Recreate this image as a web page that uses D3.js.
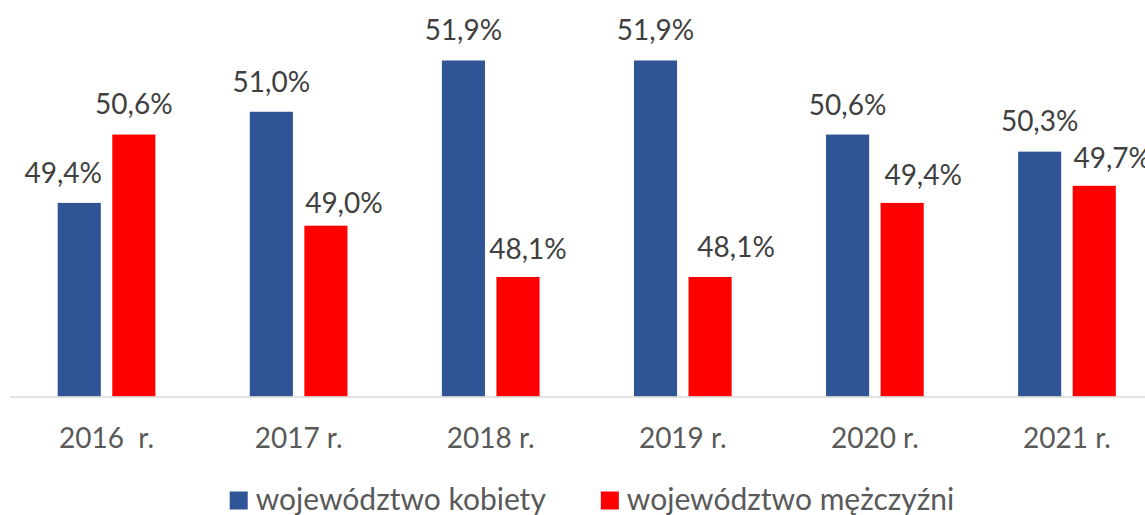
<!DOCTYPE html>
<html>
<head>
<meta charset="utf-8">
<script src="https://cdn.jsdelivr.net/npm/d3@7"></script>
<style>
  html, body { margin: 0; padding: 0; background: #fff; }
  svg { display: block; font-family: Lato, "Open Sans", sans-serif; }
  .lbl { font-size: 28px; fill: #404040; }
  .xaxis text { font-size: 28px; fill: #595959; font-family: Lato, "Open Sans", sans-serif; }
  .legend text { font-size: 30px; fill: #595959; }
</style>
</head>
<body>
<svg id="chart" width="1145" height="515"></svg>
<script>
// data
const years = ["2016  r.", "2017 r.", "2018 r.", "2019 r.", "2020 r.", "2021 r."];
const seriesNames = ["województwo kobiety", "województwo mężczyźni"];
const kobiety = [49.4, 51.0, 51.9, 51.9, 50.6, 50.3];
const mezczyzni = [50.6, 49.0, 48.1, 48.1, 49.4, 49.7];
const colors = ["#2F5597", "#FF0000"];

// label nudges (px) so labels don't collide with neighbouring bars
const labelDx = [[-16, 0, 0, 0, 0, 0], [0, 18, 10, 26, 21, 18]];
const labelGap = [[20, 20, 20, 20, 20, 21], [21, 13, 18, 20, 18, 18]];

const width = 1145, height = 515;
const svg = d3.select("#chart");

let x0 = d3.scaleBand()
  .domain(years)
  .range([10.5, 1163])
  .padding(0);

const groupW = 97.7;
let x1 = d3.scaleBand()
  .domain([0, 1])
  .range([0, groupW])
  .paddingInner(0.21)
  .paddingOuter(0);

let y = d3.scaleLinear()
  .domain([46, 52])
  .range([396.6, 54.8]);

const series = [kobiety, mezczyzni];
const rows = [];
years.forEach((yr, i) => {
  series.forEach((s, k) => rows.push({yr, i, k, v: s[i]}));
});

const gx = d => x0(d.yr) + (x0.bandwidth() - groupW) / 2 + x1(d.k);

svg.append("g").selectAll("rect")
  .data(rows)
  .enter().append("rect")
  .attr("x", gx)
  .attr("y", d => y(d.v))
  .attr("width", x1.bandwidth())
  .attr("height", d => y(46) - y(d.v))
  .attr("fill", d => colors[d.k]);

// axis
let axis = svg.append("g")
  .attr("class", "xaxis")
  .attr("transform", "translate(0," + y(46) + ")")
  .call(d3.axisBottom(x0).tickSize(0).tickPadding(32));
axis.select(".domain")
  .attr("d", "M10,0.5H1145")
  .attr("stroke", "#d9d9d9")
  .attr("stroke-width", 1.5);
axis.selectAll("text").style("white-space", "pre").attr("xml:space", "preserve");

// value labels
svg.append("g").selectAll("text")
  .data(rows)
  .enter().append("text")
  .attr("class", "lbl")
  .attr("text-anchor", "middle")
  .attr("x", d => gx(d) + x1.bandwidth() / 2 + labelDx[d.k][d.i])
  .attr("y", d => y(d.v) - labelGap[d.k][d.i])
  .text(d => d.v.toFixed(1).replace(".", ",") + "%");

// legend
let legend = svg.append("g").attr("class", "legend");
let items = legend.selectAll("g")
  .data(seriesNames)
  .enter().append("g");
items.append("rect")
  .attr("width", 18).attr("height", 18)
  .attr("y", 491.5)
  .attr("fill", (d, k) => colors[k]);
items.append("text")
  .attr("x", 26)
  .attr("y", 510)
  .text(d => d);

let widths = [];
items.each(function() { widths.push(26 + this.querySelector("text").getComputedTextLength()); });
const spacing = 55;
const total = d3.sum(widths) + spacing * (widths.length - 1);
let start = 592 - total / 2;
items.attr("transform", (d, k) => {
  const tx = start;
  start += widths[k] + spacing;
  return "translate(" + tx + ",0)";
});
</script>
</body>
</html>
